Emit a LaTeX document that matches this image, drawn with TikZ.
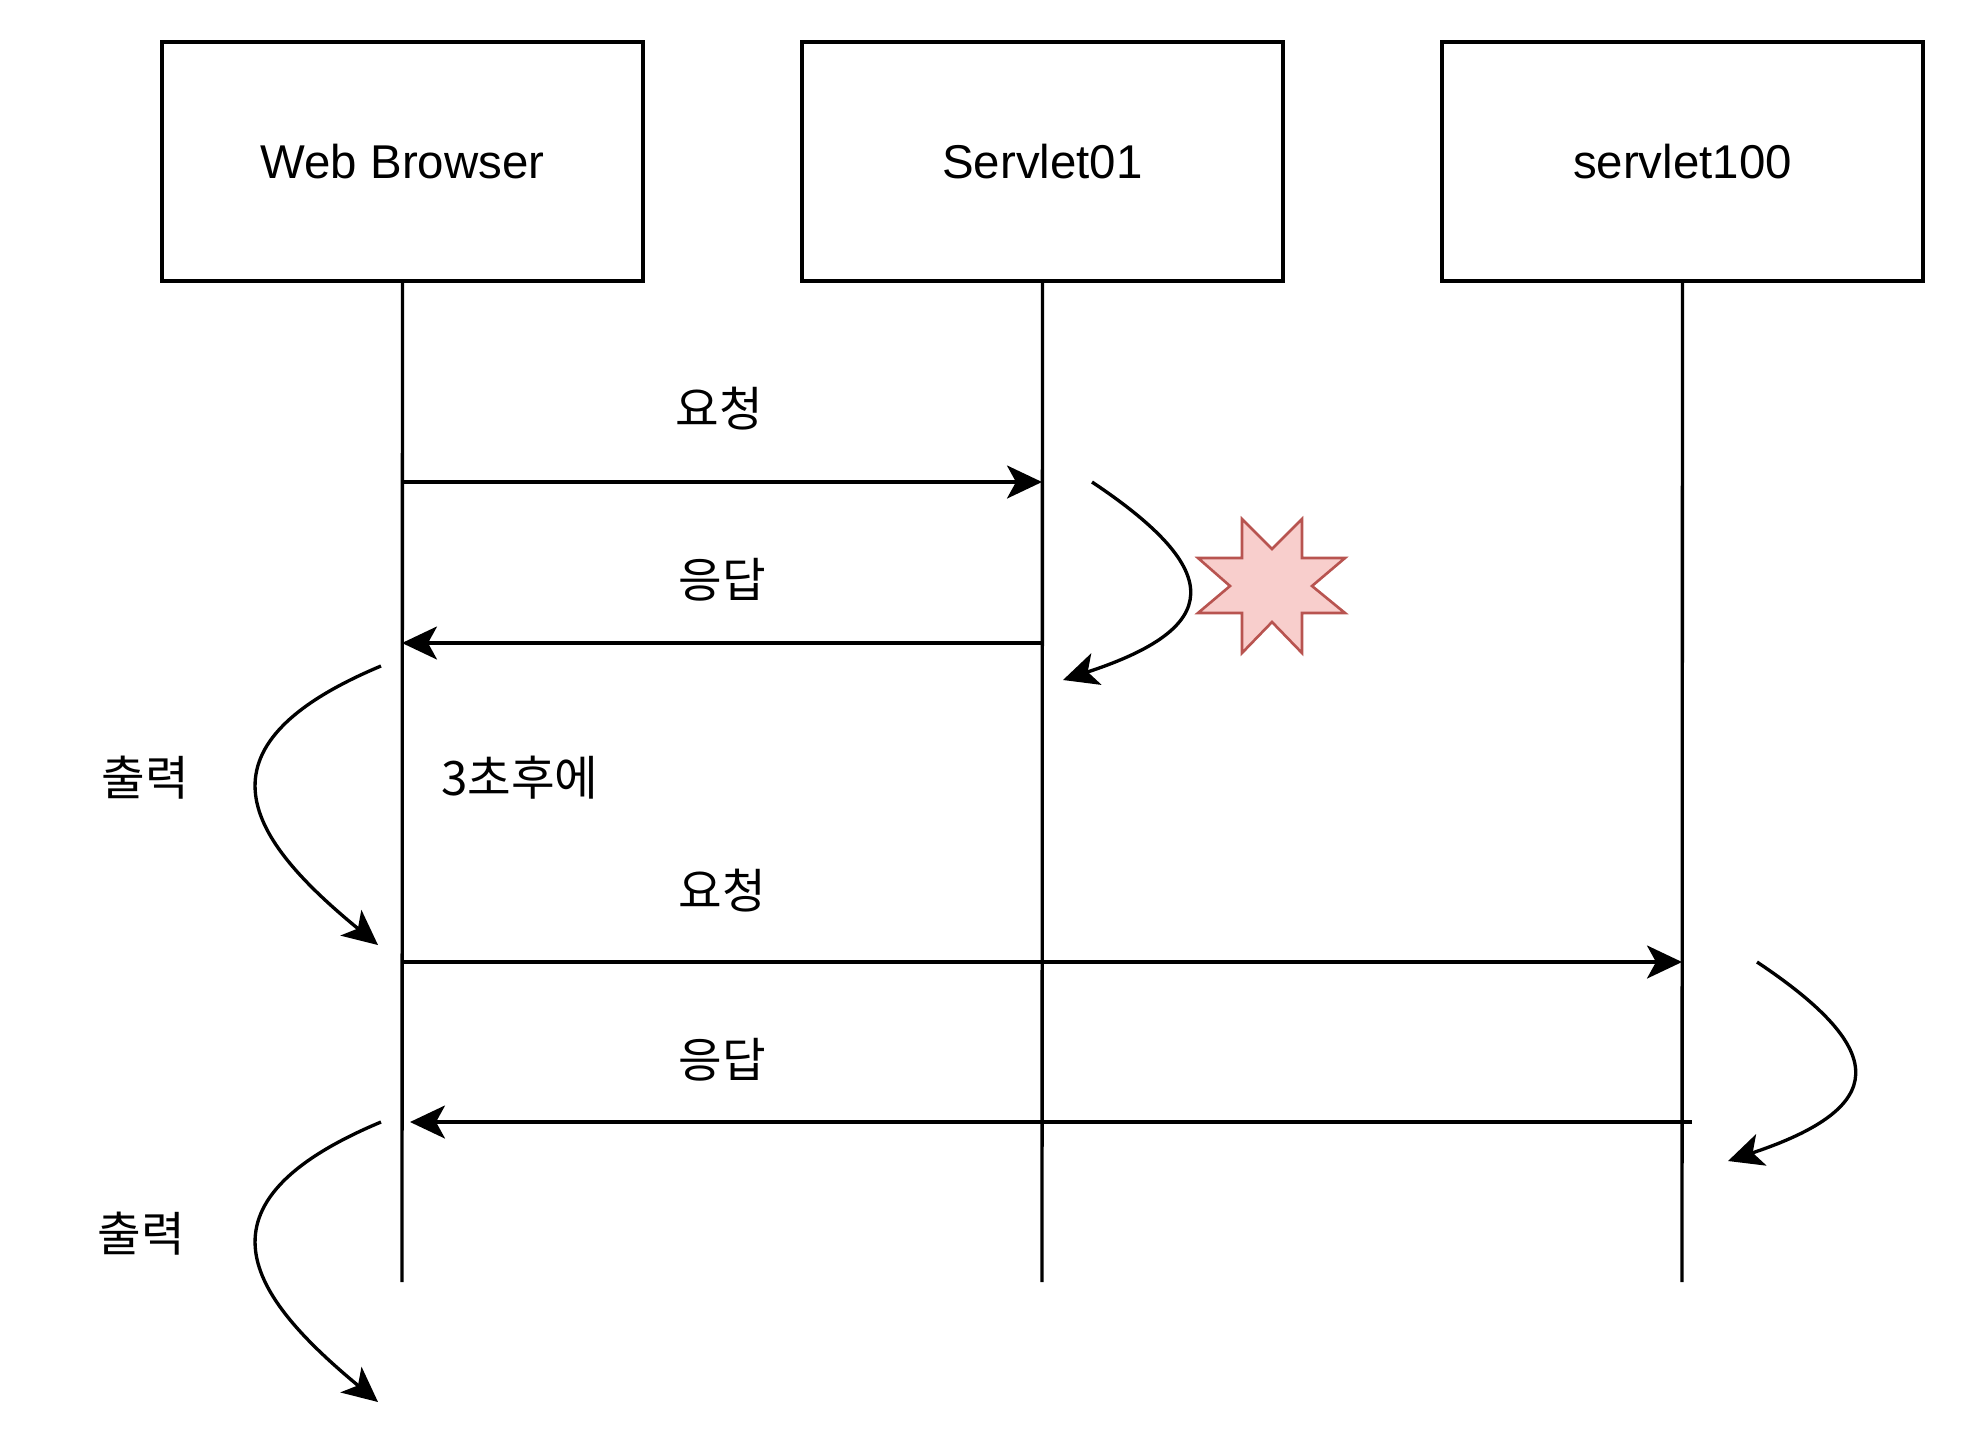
\documentclass[tikz,border=0pt]{standalone}
\usepackage{fontspec}
\setmainfont{Liberation Sans}
\newfontfamily\krfont{Noto Sans CJK KR}
\usetikzlibrary{arrows.meta}
\definecolor{burstfill}{HTML}{F8CECC}
\definecolor{burstline}{HTML}{B85450}
\begin{document}
\begin{tikzpicture}[x=0.02cm, y=-0.02cm,
	actor/.style={draw, line width=1.9pt, minimum width=9.62cm, minimum height=4.78cm, inner sep=0pt, outer sep=0pt, font=\fontsize{27}{32}\selectfont},
	life/.style={line width=1.9pt},
	msg/.style={line width=1.9pt, -{Stealth[length=0.7cm, width=0.66cm, inset=0.18cm]}},
	loopback/.style={line width=1.9pt, -{Stealth[length=0.7cm, width=0.66cm, inset=0.18cm]}},
	lbl/.style={font=\krfont\fontsize{27}{32}\selectfont, inner sep=0pt},
	burst/.style={fill=burstfill, draw=burstline, line width=1.5pt, line join=miter}]
	
	\useasboundingbox (0,0) rectangle (1964,1444);
	
	% Row 1: the three participants
	\node[actor] (wb) at (402.5,161.5) {Web Browser};
	\node[actor] (s01) at (1042.5,161.5) {Servlet01};
	\node[actor] (s100) at (1682.5,161.5) {servlet100};
	
	% lifelines
	\coordinate (wbend) at (402,1282);
	\coordinate (s01end) at (1042,1282);
	\coordinate (s100end) at (1682,1282);
	\draw[life] (wb.south) -- (wbend);
	\draw[life] (s01.south) -- (s01end);
	\draw[life] (s100.south) -- (s100end);
	
	% first request / response
	\coordinate (req1a) at (402,482);
	\coordinate (req1b) at (1042,482);
	\coordinate (res1a) at (1042,643);
	\coordinate (res1b) at (402,643);
	\draw[msg] (req1a) -- (req1b);
	\draw[msg] (res1a) -- (res1b);
	\node[lbl] (req1) at (719,409) {요청};
	\node[lbl] (res1) at (722,580) {응답};
	
	% Servlet01 fails
	\coordinate (fail1a) at (1092,482);
	\coordinate (fail1b) at (1063,680);
	\draw[loopback] (fail1a) .. controls (1227,572) and (1222,628) .. (fail1b);
	\draw[burst, shift={(1272,586)}] (-30,-67) -- (0,-37) -- (30,-67) -- (30,-28) -- (73,-28) -- (40,0) -- (73,27) -- (30,27) -- (30,67) -- (0,36) -- (-30,67) -- (-30,27) -- (-74,27) -- (-42,0) -- (-74,-28) -- (-30,-28) -- cycle;
	
	% output in the browser, then wait
	\coordinate (out1a) at (381,666);
	\coordinate (out1b) at (378,945);
	\draw[loopback] (out1a) .. controls (185,748) and (250,840) .. (out1b);
	\node[lbl] (out1) at (145,778) {출력};
	\node[lbl] (wait) at (520,778) {3초후에};
	
	% second request / response
	\coordinate (req2a) at (402,962);
	\coordinate (req2b) at (1682,962);
	\coordinate (res2a) at (1692,1122);
	\coordinate (res2b) at (410,1122);
	\draw[msg] (req2a) -- (req2b);
	\draw[msg] (res2a) -- (res2b);
	\node[lbl] (req2) at (722,891) {요청};
	\node[lbl] (res2) at (722,1060) {응답};
	
	% servlet100 answers
	\coordinate (ok2a) at (1757,962);
	\coordinate (ok2b) at (1728,1161);
	\draw[loopback] (ok2a) .. controls (1892,1052) and (1887,1108) .. (ok2b);
	
	% output again
	\coordinate (out2a) at (381,1122);
	\coordinate (out2b) at (378,1402);
	\draw[loopback] (out2a) .. controls (185,1204) and (250,1296) .. (out2b);
	\node[lbl] (out2) at (141,1234) {출력};
	
\end{tikzpicture}
\end{document}
